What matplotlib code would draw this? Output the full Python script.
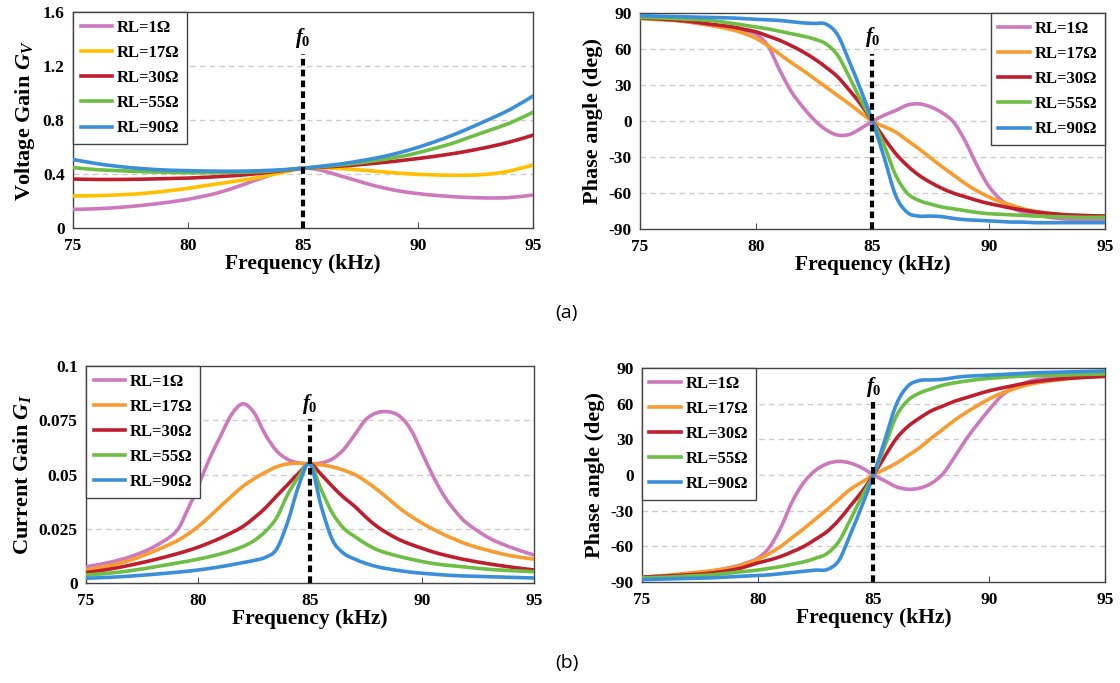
import numpy as np
import matplotlib
matplotlib.use("Agg")
import matplotlib.pyplot as plt
from matplotlib.path import Path
from matplotlib.patches import PathPatch

plt.rcParams['font.family'] = ['Liberation Serif', 'DejaVu Serif']
plt.rcParams['font.weight'] = 'bold'
plt.rcParams['mathtext.fontset'] = 'custom'
plt.rcParams['mathtext.rm'] = 'Liberation Serif:bold'
plt.rcParams['mathtext.it'] = 'Liberation Serif:italic:bold'

freq = [75, 76, 77, 78, 79, 79.5, 80, 80.5, 81, 81.5, 82, 82.5, 83, 83.5, 84, 84.5, 85,
        85.5, 86, 86.5, 87, 87.5, 88, 88.5, 89, 89.5, 90, 90.5, 91, 91.5, 92, 93, 94, 95]
labels = ['RL=1Ω', 'RL=17Ω', 'RL=30Ω', 'RL=55Ω', 'RL=90Ω']

# voltage gain
gv_1 = [.14, .145, .155, .17, .19, .202, .215, .232, .25, .273, .3, .33, .36, .39, .418, .438, .445,
        .44, .42, .395, .37, .345, .32, .3, .282, .268, .257, .248, .241, .235, .23, .225, .228, .247]
gv_17 = [.24, .242, .248, .258, .275, .285, .296, .31, .322, .335, .348, .36, .375, .392, .41, .428, .445,
         .448, .448, .444, .438, .432, .425, .418, .411, .405, .4, .397, .394, .393, .393, .4, .425, .47]
gv_30 = [.365, .362, .362, .364, .368, .37, .372, .376, .38, .385, .39, .397, .405, .415, .425, .435, .445,
         .45, .455, .46, .465, .472, .48, .488, .497, .507, .517, .528, .54, .553, .567, .6, .64, .69]
gv_55 = [.45, .435, .427, .42, .415, .413, .412, .412, .412, .413, .414, .416, .419, .423, .43, .437, .445,
         .452, .46, .468, .476, .486, .498, .51, .525, .54, .56, .582, .605, .63, .66, .72, .78, .86]
gv_90 = [.51, .48, .458, .442, .432, .429, .427, .425, .424, .423, .423, .424, .426, .429, .433, .438, .445,
         .454, .464, .474, .486, .5, .515, .532, .552, .575, .6, .628, .658, .69, .725, .8, .88, .98]

# phase of voltage gain (deg)
pv_1 = [86, 85, 83, 80, 77, 75.5, 72.5, 63, 43, 25, 12, 1, -7, -11.5, -11, -6, 0,
        5, 9, 13.5, 14.5, 12, 7, -1, -17, -37, -54, -65, -72, -76, -78, -81, -82, -82.5]
pv_17 = [85.5, 84.5, 83, 80, 76, 73, 69, 63, 56, 49, 42.5, 35.5, 28.5, 21.5, 14.5, 7, 0,
         -4.5, -9, -16, -23, -30.5, -38, -45, -52, -58, -63, -67, -70, -73, -75, -77.5, -78.5, -79]
pv_30 = [86, 85, 83.5, 81, 78.5, 76.5, 74.5, 71, 67.5, 63, 58, 52, 45, 37, 26, 14, 0,
         -14, -27, -37, -45, -51, -56, -60, -63, -66, -68.5, -70.5, -72.5, -74, -75.5, -77.5, -78.5, -79]
pv_55 = [86.5, 86, 85, 84, 81.5, 80, 78.5, 77, 75, 73, 71, 68.5, 64.5, 55, 37, 17.5, 0,
         -20, -45, -60, -66, -69, -71.5, -73, -74.5, -76, -77, -77.5, -78, -78.5, -79, -79.5, -80, -80]
pv_90 = [88, 87.5, 87, 86.5, 86, 85.5, 85, 84.5, 84, 83, 82, 81.5, 81, 72, 50, 26, 0,
         -30, -62, -76, -79, -79, -79.5, -81, -82, -82.5, -83, -83.5, -84, -84, -84.5, -84.5, -84.5, -84.5]

# current gain
gi_1 = [.0075, .0094, .0122, .0165, .0235, .033, .0445, .057, .0676, .0777, .0826, .0785, .0685, .061, .057, .0553, .0549,
        .0553, .0572, .0615, .0684, .0754, .0785, .0789, .0769, .0707, .06, .0491, .0399, .033, .0276, .0207, .0163, .0129]
gi_17 = [.006, .0079, .0106, .0145, .0191, .0222, .026, .0305, .0353, .04, .0445, .048, .051, .0535, .0549, .0552, .0549,
         .0545, .0535, .052, .05, .0468, .043, .0388, .0345, .0308, .0276, .0248, .0222, .02, .0179, .0149, .0125, .011]
gi_30 = [.0048, .0063, .0083, .0106, .0133, .0148, .0165, .0185, .0207, .0232, .026, .03, .0345, .04, .0453, .0507, .0549,
         .05, .0445, .0395, .0353, .0303, .026, .0227, .0199, .0178, .016, .0143, .0129, .0117, .0106, .0088, .0073, .006]
gi_55 = [.0037, .0045, .0057, .0073, .0091, .01, .011, .0121, .0134, .0149, .0168, .0195, .0237, .0299, .0407, .0491, .0549,
         .043, .0322, .0253, .0214, .018, .0153, .0136, .0122, .011, .0099, .009, .0083, .0078, .0073, .0063, .0057, .0052]
gi_90 = [.0022, .0026, .0032, .004, .0049, .0054, .006, .0067, .0075, .0084, .0094, .0104, .0118, .0155, .028, .045, .0549,
         .0353, .0199, .0137, .011, .009, .0075, .0065, .0057, .005, .0045, .0041, .0037, .0034, .0032, .0029, .0026, .0023]

# phase of current gain (deg)
pi_1 = [-86, -85, -83.5, -81, -77, -74, -70, -61, -44, -22, -6, 4, 9.5, 11.5, 10, 6, 0,
        -5, -10, -12, -11, -7, 1, 15, 30, 43, 55, 66, 73, 77, 80, 82, 83, 83.5]
pi_17 = [-86, -84.5, -82.5, -80.5, -77.5, -74.5, -71, -66, -60, -52.5, -45, -37, -29, -20.5, -12, -6, 0,
         5, 10, 16.5, 23, 31, 38.5, 46, 52.5, 58.5, 64, 68.5, 72, 75, 77.3, 80, 82, 83]
pi_30 = [-86, -85, -84, -82.5, -79.5, -77, -74, -71.5, -68.5, -64.5, -60, -54, -47.5, -38, -26, -14, 0,
         16, 31, 41, 48, 54, 58, 62, 65, 68, 70.8, 73, 75, 77, 78.5, 80.7, 82, 83]
pi_55 = [-86.5, -86, -85, -84, -82, -81, -80, -78.5, -77, -75, -73, -70, -66, -56, -37.6, -18, 0,
         25, 50, 63, 69, 72.5, 75.5, 77.5, 79, 80.3, 81.3, 82, 82.7, 83.2, 83.5, 84, 84.5, 85]
pi_90 = [-88, -87.5, -87, -86.5, -85.5, -85, -84.5, -84, -83, -82, -81, -80, -79.5, -72, -50, -26, 0,
         30, 60, 75, 79.5, 80, 80.5, 82, 83, 83.5, 84, 84.5, 85, 85.5, 86, 86.5, 87, 87.5]

pink = '#CC79BD'
yellow = '#FFC000'
orange = '#F89C30'
red = '#BE1E2D'
green = '#6DBE45'
blue = '#3B8FD9'

fig = plt.figure(figsize=(11.2, 6.83), dpi=100)


def smooth_path(x, y):
    # Excel-style smoothed line: cubic Bezier segments through every data point
    x = np.asarray(x, float)
    y = np.asarray(y, float)
    n = len(x)
    verts = [(x[0], y[0])]
    codes = [Path.MOVETO]
    for i in range(n - 1):
        i0 = max(i - 1, 0)
        i3 = min(i + 2, n - 1)
        c1 = (x[i] + (x[i + 1] - x[i0]) / 6, y[i] + (y[i + 1] - y[i0]) / 6)
        c2 = (x[i + 1] - (x[i3] - x[i]) / 6, y[i + 1] - (y[i3] - y[i]) / 6)
        verts += [c1, c2, (x[i + 1], y[i + 1])]
        codes += [Path.CURVE4] * 3
    return Path(verts, codes)


def setup(ax, ylim, yticks, yticklabels, ylabel, f0_top, f0_text):
    ax.set_xlim(75, 95)
    ax.set_ylim(*ylim)
    ax.set_xticks([75, 80, 85, 90, 95])
    ax.set_yticks(yticks)
    ax.set_yticklabels(yticklabels)
    ax.tick_params(axis='x', direction='in', length=4, labelsize=12.5, pad=7, color='#555555')
    ax.tick_params(axis='y', length=0, labelsize=12.5, pad=6)
    for t in ax.get_xticklabels() + ax.get_yticklabels():
        t.set_fontweight('bold')
    for y in yticks[1:-1]:
        ax.axhline(y, color='#CCCCCC', lw=1, dashes=(4, 3), zorder=0)
    for s in ax.spines.values():
        s.set_color('#444444')
        s.set_linewidth(1)
    ax.set_xlabel('Frequency (kHz)', fontsize=15.5, fontweight='bold', labelpad=0)
    ax.set_ylabel(ylabel, fontsize=16, fontweight='bold', labelpad=4)
    ax.plot([85, 85], [ylim[0], f0_top], color='black', lw=3, dashes=(1.6, 1.0), zorder=4)
    ax.text(85, f0_text, '$f_0$', ha='center', va='bottom', fontsize=15)


def draw(ax, series, colors, loc):
    for ys, c, lab in zip(series, colors, labels):
        ax.add_patch(PathPatch(smooth_path(freq, ys), fill=False, edgecolor=c,
                               lw=2.6, capstyle='round', joinstyle='round', zorder=3))
        ax.plot([], [], color=c, lw=2.6, label=lab)
    leg = ax.legend(loc=loc, borderaxespad=0, fancybox=False, framealpha=1,
                    edgecolor='#444444', handlelength=1.9, handletextpad=0.3,
                    labelspacing=0.55, borderpad=0.45, prop={'size': 12, 'weight': 'bold'})
    leg.get_frame().set_linewidth(1)
    leg.set_zorder(5)


ax1 = fig.add_axes([0.0652, 0.6657, 0.4107, 0.3163])
draw(ax1, [gv_1, gv_17, gv_30, gv_55, gv_90], [pink, yellow, red, green, blue], 'upper left')
setup(ax1, (0, 1.6), [0, 0.4, 0.8, 1.2, 1.6], ['0', '0.4', '0.8', '1.2', '1.6'],
      'Voltage Gain $\\mathit{G}_\\mathit{V}$', 1.29, 1.32)

ax2 = fig.add_axes([0.5714, 0.6643, 0.4152, 0.3163])
draw(ax2, [pv_1, pv_17, pv_30, pv_55, pv_90], [pink, orange, red, green, blue], 'upper right')
setup(ax2, (-90, 90), [-90, -60, -30, 0, 30, 60, 90], ['-90', '-60', '-30', '0', '30', '60', '90'],
      'Phase angle (deg)', 56, 60)

ax3 = fig.add_axes([0.0768, 0.1464, 0.4, 0.3177])
draw(ax3, [gi_1, gi_17, gi_30, gi_55, gi_90], [pink, orange, red, green, blue], 'upper left')
setup(ax3, (0, 0.1), [0, 0.025, 0.05, 0.075, 0.1], ['0', '0.025', '0.05', '0.075', '0.1'],
      'Current Gain $\\mathit{G}_\\mathit{I}$', 0.0755, 0.077)

ax4 = fig.add_axes([0.5732, 0.1479, 0.4134, 0.3133])
draw(ax4, [pi_1, pi_17, pi_30, pi_55, pi_90], [pink, orange, red, green, blue], 'upper left')
setup(ax4, (-90, 90), [-90, -60, -30, 0, 30, 60, 90], ['-90', '-60', '-30', '0', '30', '60', '90'],
      'Phase angle (deg)', 61, 64)

fig.text(0.506, 1 - 313 / 683, '(a)', ha='center', va='center', fontsize=14,
         family='Open Sans', fontweight='normal')
fig.text(0.506, 1 - 663 / 683, '(b)', ha='center', va='center', fontsize=14,
         family='Open Sans', fontweight='normal')

fig.savefig('out.png', dpi=100)
